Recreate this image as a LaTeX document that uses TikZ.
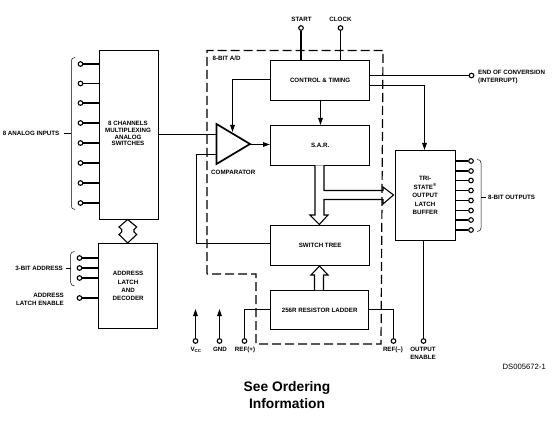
\documentclass[tikz,border=0pt]{standalone}
\usepackage{fontspec}
\setmainfont{Liberation Sans}
\usetikzlibrary{arrows.meta}
\newcommand{\lbl}{\fontsize{6.2}{8.4}\selectfont\bfseries}
\tikzset{
 box/.style={draw,line width=1.3pt,anchor=north west,inner sep=0pt,align=center,font=\lbl},
 wire/.style={line width=1.3pt},
 term/.style={circle,draw,line width=1.1pt,fill=white,minimum size=4.6pt,inner sep=0pt},
 txt/.style={inner sep=0pt,font=\lbl,align=center},
 arr/.style={-{Triangle[length=7pt,width=4.5pt]}},
 hollow/.style={line width=1.1pt,fill=white,line join=miter},
 dash box/.style={line width=1.2pt,dash pattern=on 9pt off 4pt},
}
\begin{document}
\begin{tikzpicture}[x=1pt,y=-1pt]
\useasboundingbox (0,0) rectangle (556,422);
% blocks
\node[box,minimum width=59pt,minimum height=169pt] (mux) at (99,50) {};
\node[txt,font=\fontsize{6.2}{6.9}\selectfont\bfseries] (muxt) at (128,133.5) {8 CHANNELS\\MULTIPLEXING\\ANALOG\\SWITCHES};
\node[box,minimum width=59pt,minimum height=85pt] (addr) at (98,243) {ADDRESS\\LATCH\\AND\\DECODER};
\node[box,minimum width=99pt,minimum height=40pt] (ctl) at (270,60) {CONTROL \& TIMING};
\node[box,minimum width=99pt,minimum height=40pt] (sar) at (270,125) {S.A.R.};
\node[box,minimum width=99pt,minimum height=40pt] (sw) at (270,225) {SWITCH TREE};
\node[box,minimum width=98pt,minimum height=39pt] (lad) at (270,290) {256R RESISTOR LADDER};
\node[box,minimum width=60pt,minimum height=90pt] (out) at (394.5,150) {TRI-\\STATE\textsuperscript{®}\\OUTPUT\\LATCH\\BUFFER};
% SAR to switch tree hollow arrow
\draw[hollow] (315,165.5) -- (315,215) -- (310,215) -- (319.3,224.5) -- (328,215) -- (324,215) -- (324,199.5) -- (383,199.5) -- (383,204) -- (393.5,195) -- (383,187) -- (383,190.5) -- (324,190.5) -- (324,165.5);
% dashed outline
\draw[dash box] (207,274) -- (207,50.5) -- (383,50.5) -- (381,344) -- (256,344) -- (256,274) -- cycle;
% comparator
\coordinate (cin1) at (216.5,134.5);
\coordinate (cin2) at (216.5,154.5);
\coordinate (cout) at (250,144.5);
\draw[line width=1.7pt,fill=white] (216.5,124) -- (250,144) -- (216.5,164) -- cycle;
\node[txt,anchor=west] (cmp) at (211,172) {COMPARATOR};
\node[txt,anchor=west] (bit) at (212.5,58) {8-BIT A/D};
% comparator wires
\draw[wire] (mux.east |- cin1) -- (cin1);
\draw[wire,arr] (cout) -- (sar.west |- cout);
\draw[wire] (sw.west |- 0,243.5) -- (196.5,243.5) -- (196.5,154.5) -- (cin2);
\draw[wire,arr] (ctl.west |- 0,79.5) -- (232.5,79.5) -- (232.5,132);
\draw[wire,arr] (320.5,100) -- (320.5,125);
% analog inputs
\foreach \y/\n in {64/a,83.5/b,103/c,123/d,143/e,163/f,183/g,203/h}{
 \node[term] (i\n) at (80.5,\y) {};
 \draw[wire] (i\n) -- (mux.west |- i\n);
}
\draw[line width=.5pt] (75,57.5) .. controls (72,57.5) and (71.5,59) .. (71.5,61) -- (71.5,206) .. controls (71.5,208) and (72,209.5) .. (75,209.5);
\draw[line width=.6pt] (64,133.5) -- (71,133.5);
\node[txt,anchor=east] (ai) at (59.5,133.5) {8 ANALOG INPUTS};
% address
\foreach \y/\n in {258/a,268/b,278/c,298/d}{
 \node[term] (p\n) at (79.5,\y) {};
 \draw[wire] (p\n) -- (addr.west |- p\n);
}
\draw[line width=.5pt] (74.5,251.5) .. controls (72,251.5) and (70.5,253) .. (70.5,255) -- (70.5,282) .. controls (70.5,284) and (72,286) .. (74.5,286);
\draw[line width=.6pt] (66,268) -- (70.5,268);
\node[txt,anchor=east] (ab) at (63,268) {3-BIT ADDRESS};
\node[txt,anchor=east,align=right] (ale) at (64,299.5) {ADDRESS\\LATCH ENABLE};
% mux-address double arrow
\draw[hollow] (127.7,219.5) -- (136.7,227) -- (134,229.5) -- (134,232) -- (136.7,234.5) -- (127.7,243) -- (119,234.5) -- (121.7,232) -- (121.7,229.5) -- (119,227) -- cycle;
% ladder to switch tree
\draw[hollow] (314.5,290) -- (314.5,275) -- (311,275) -- (319.5,266) -- (328,275) -- (323.5,275) -- (323.5,290);
% top pins
\node[term] (st) at (301,28) {};
\node[term] (ck) at (340.5,28) {};
\draw[wire] (st) -- (st |- ctl.north);
\draw[wire] (ck) -- (ck |- ctl.north);
\node[txt] (stl) at (301.5,19.5) {START};
\node[txt] (ckl) at (340.5,19.5) {CLOCK};
% end of conversion
\node[term] (eoc) at (471.5,75.5) {};
\draw[wire] (ctl.east |- eoc) -- (eoc);
\node[txt,anchor=west,align=left] (eocl) at (478,77) {END OF CONVERSION\\(INTERRUPT)};
\draw[wire,arr] (ctl.east |- 0,85.5) -- (424.5,85.5) -- (424.5,150);
% outputs
\foreach \y/\n in {161/a,171/b,180.5/c,190.5/d,200.5/e,210.5/f,220/g,230/h}{
 \node[term] (o\n) at (471,\y) {};
 \draw[wire] (out.east |- o\n) -- (o\n);
}
\draw[line width=.5pt] (477,159.5) .. controls (479.5,159.5) and (481,160.5) .. (481,163) -- (481,228) .. controls (481,230) and (479.5,231.5) .. (477,231.5);
\draw[line width=.6pt] (481,197) -- (486,197);
\node[txt,anchor=west] (obl) at (488,197) {8-BIT OUTPUTS};
% bottom pins
\node[term] (vcc) at (195.5,341) {};
\node[term] (gnd) at (219.5,341) {};
\draw[wire,arr] (vcc) -- (195.5,309);
\draw[wire,arr] (gnd) -- (219.5,309);
\node[txt] (vl) at (196,349.5) {V\textsubscript{CC}};
\node[txt] (gl) at (220,349.5) {GND};
\node[term] (rp) at (244.5,341) {};
\draw[wire] (rp) -- (244.5,309.5) -- (lad.west |- 0,309.5);
\node[txt] (rpl) at (245,349.5) {REF(+)};
\node[term] (rm) at (393.5,341) {};
\draw[wire] (lad.east |- 0,309.5) -- (393.5,309.5) -- (rm);
\node[txt] (rml) at (393,349.5) {REF(–)};
\node[term] (oe) at (423.5,341) {};
\draw[wire] (oe) -- (oe |- out.south);
\node[txt] (oel) at (423,353.5) {OUTPUT\\ENABLE};
% notes
\node[inner sep=0pt,anchor=east,font=\fontsize{7.7}{9}\selectfont] (ds) at (546,367) {DS005672-1};
\node[inner sep=0pt,align=center,font=\fontsize{13.8}{17}\selectfont\bfseries] (see) at (287,395.5) {See Ordering\\Information};
\end{tikzpicture}
\end{document}
